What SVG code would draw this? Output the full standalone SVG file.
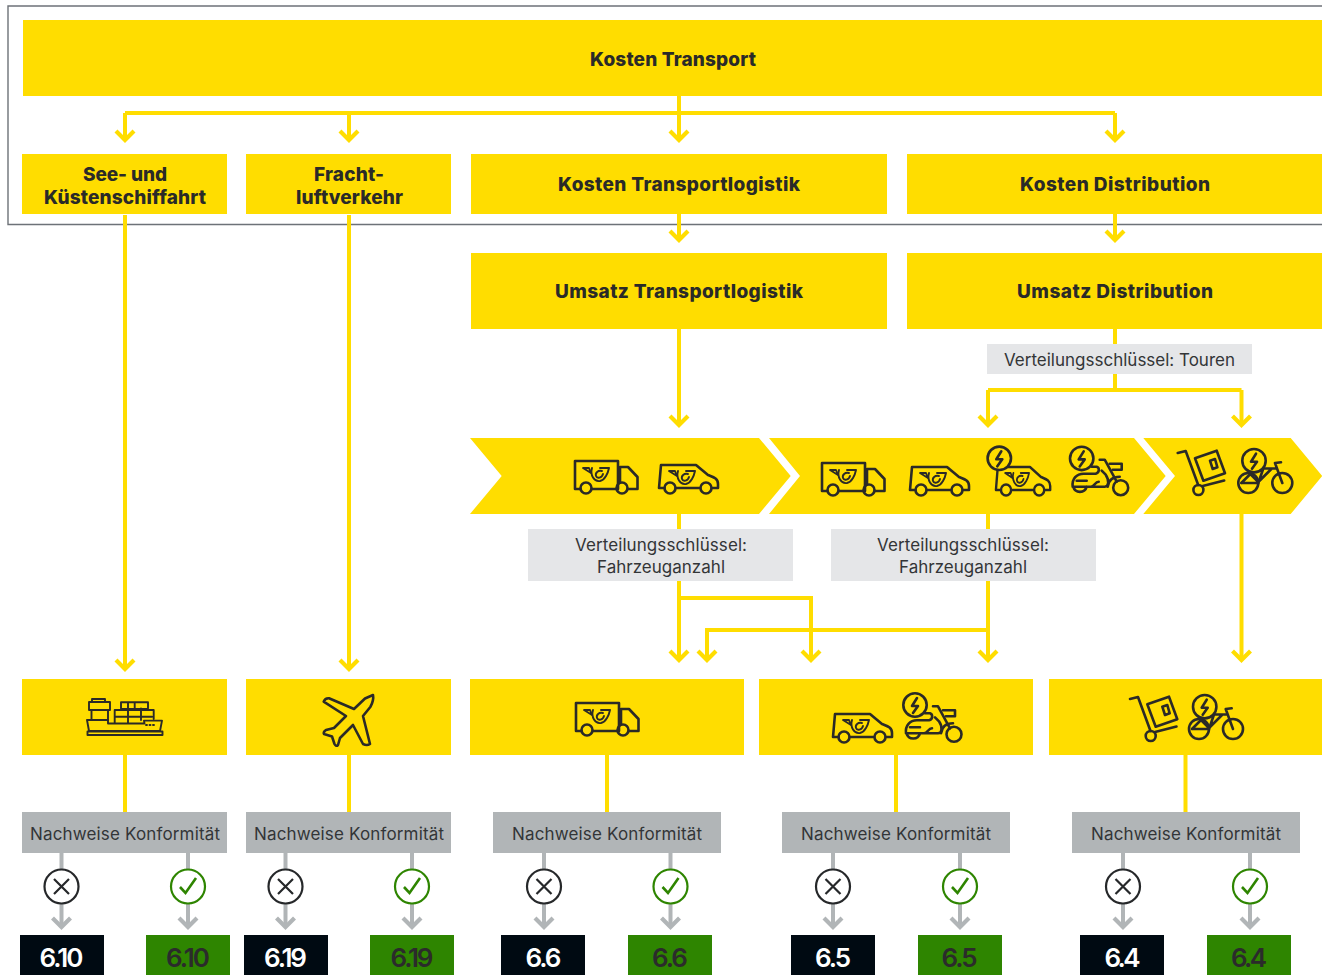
<svg xmlns="http://www.w3.org/2000/svg" width="1322" height="975" viewBox="0 0 1322 975">
<style>
.y{fill:#ffdd00}
.h{font-family:Inter,"Liberation Sans",sans-serif;font-weight:800;font-size:19px;fill:#2a2a28;text-anchor:middle}
.t{font-family:Inter,"Liberation Sans",sans-serif;font-weight:400;font-size:17px;fill:#333537;text-anchor:middle}
.n{font-family:Inter,"Liberation Sans",sans-serif;font-weight:600;font-size:26px;text-anchor:middle}
.lab{fill:#e5e6e8}
.g{fill:#b1b5b7}
.bl{fill:#000a12}
.gr{fill:#2e8500}
.c{fill:none;stroke:#ffdd00;stroke-width:4}
.ca{fill:none;stroke:#ffdd00;stroke-width:4;marker-end:url(#ay)}
.cg{fill:none;stroke:#b1b5b7;stroke-width:4}
.cga{fill:none;stroke:#b1b5b7;stroke-width:4;marker-end:url(#ag)}
.i{fill:none;stroke:#2b2a27;stroke-width:2.6;stroke-linejoin:round;stroke-linecap:round}
.i2{fill:none;stroke:#2b2a27;stroke-width:1.9;stroke-linejoin:round;stroke-linecap:round}
.lg{stroke-width:1.9}
.bf{fill:#ffdd00}
.cx{fill:#fff;stroke:#26282a;stroke-width:2.2}
.cv{fill:#fff;stroke:#2e8500;stroke-width:2.2}
.mx{fill:none;stroke:#26282a;stroke-width:2.2}
.mv{fill:none;stroke:#2e8500;stroke-width:2.6}
</style>
<defs>
<marker id="ay" markerUnits="userSpaceOnUse" markerWidth="24" markerHeight="28" refX="12" refY="14" orient="auto" viewBox="0 0 24 28"><path d="M3 5 L12 14 L3 23" fill="none" stroke="#ffdd00" stroke-width="4.2"/></marker>
<marker id="ag" markerUnits="userSpaceOnUse" markerWidth="24" markerHeight="28" refX="12" refY="14" orient="auto" viewBox="0 0 24 28"><path d="M3 5 L12 14 L3 23" fill="none" stroke="#b1b5b7" stroke-width="4.2"/></marker>
<g id="logo" class="lg"><path d="M0 1 L6 1 L8 6 Z"/><path d="M9 1 C7 8 11 15 17 14 C22 13 25 6 26 1 H17"/><path d="M19 4 C15 3 12 6 13 9 C14 12 19 11 20 7"/></g>
<g id="truck"><path d="M6.5 29 H1 V1 H44 V29 M18 29 H42"/><circle cx="12" cy="28" r="5.5"/><circle cx="48" cy="28" r="5.5"/><path d="M46 22 V7 H54 L63.5 17 V29 H54"/><use href="#logo" x="9" y="7"/></g>
<g id="van"><path d="M6.5 24 H1 L3 1 H38 L50 11 C55 13 60 14 60 20 V24 H54 M18 24 H42"/><circle cx="12" cy="24" r="5.5"/><circle cx="48" cy="24" r="5.5"/><use href="#logo" x="11" y="6"/></g>
<g id="badge"><circle class="bf" cx="0" cy="0" r="11.7"/><path d="M2 -7 L-3 1 H3 L-2 8"/></g>
<g id="scooter"><path d="M1 41 C0 33 5 28 12 28 H24 C28 27 28 22 25 21 H20 M1 41 H19 C23 41 23 36 27 36 M20 41 H33 C37 41 38 35 34 29 L30 25 M28 14 H33 L45 36 M15 41 A7 7 0 0 1 1.500 41 M5 35 H15"/><path d="M38 18 H50 V24 H41"/><circle cx="49" cy="42" r="7.5"/><path d="M36 41 C37 34 42 31 48 31"/><use href="#badge" x="10" y="12.7"/></g>
<g id="trolley"><path d="M1 3 L9 1 L21.500 35 M26 36 L47.500 30.500"/><circle cx="21.7" cy="40" r="5"/><path d="M18.300 8.300 L40 .7 L48.300 23.300 L26.700 30.700 Z M33.300 10.700 L38.300 9 L40.700 17.300 L36 19 Z"/></g>
<g id="bike"><circle cx="10" cy="33" r="10"/><circle cx="44" cy="33" r="10"/><path d="M3 33 H20 L25 18.500 H37 M20 32 L33 19 M44 33 L36.700 13 L42.700 12.300 M3 33 L12 24 L20 32"/><use href="#badge" x="15.7" y="10.7"/></g>
<g id="ship"><path d="M0 22 H21 V25.500 H57.500 L57 22.600 H75 L73 33 H2 Z"/><path d="M0.500 33.500 H75.500 V37 H0.500 Z"/><path d="M2 4 H23 V12 H2 Z M4.500 12 V22 M21 12 V22 M5 4 V1 H18 V4"/><path d="M34 10.500 V4.300 H61 V10.500 M27.700 25 V12 H66.700 V21 M27.700 18.700 H65 M41 4.300 V25 M47.700 4.300 V10.500 M54 10.500 V22 M34 11 H61"/><path d="M59 27 H60 M62.500 27 H63.500 M66 27 H67"/></g>
<g id="plane"><path d="M50 1 L42 4.500 L31 15 L6 4.300 Q2 4 .7 7.700 L23 22 L11 34 L3 36 Q0 38 1 40 L9 42.500 L11.500 50 Q13 53 15 51 L17 44 L30 31 L40 50 Q44 52 47 50 L40 22 L47.500 12.700 Q51 6 50 1 Z"/></g>
</defs>
<path id="frame" d="M1322 6 H8 V224.500 H1322" fill="none" stroke="#6d7278" stroke-width="1.4"/>
<g id="connectors">
<path class="c" d="M679 96 V113 M125 113 H1115"/>
<path class="ca" d="M125 113 V140"/><path class="ca" d="M349 113 V140"/><path class="ca" d="M679 113 V140"/><path class="ca" d="M1115 113 V140"/>
<path class="ca" d="M125 215 V669"/><path class="ca" d="M349 215 V669"/>
<path class="ca" d="M679 214 V240"/><path class="ca" d="M1115 214 V240"/>
<path class="ca" d="M679 329 V425"/>
<path class="c" d="M1115 329 V390 M988 390 H1241.500"/>
<path class="ca" d="M988 390 V425"/><path class="ca" d="M1241.500 390 V425"/>
<path class="ca" d="M679 514 V660"/>
<path class="ca" d="M679 598 H811 V660"/>
<path class="ca" d="M988 514 V660"/>
<path class="ca" d="M988 630 H707 V660"/>
<path class="ca" d="M1241.500 514 V660"/>
<path class="c" d="M125 755 V812 M349 755 V812 M607 755 V812 M896 755 V812 M1185.500 755 V812"/>
<path class="cga" d="M61.500 853 V927"/><path class="cga" d="M188 853 V927"/><path class="cga" d="M285.500 853 V927"/><path class="cga" d="M412 853 V927"/><path class="cga" d="M544 853 V927"/><path class="cga" d="M670.500 853 V927"/><path class="cga" d="M833 853 V927"/><path class="cga" d="M960 853 V927"/><path class="cga" d="M1123 853 V927"/><path class="cga" d="M1250 853 V927"/>
</g>
<g id="n-kosten-transport"><rect class="y" x="23" y="20" width="1299" height="76"/><text class="h" x="673" y="66" textLength="166">Kosten Transport</text></g>
<g id="n-see"><rect class="y" x="22" y="154" width="205" height="60"/><text class="h" x="125" y="181" textLength="84">See- und</text><text class="h" x="125" y="204" textLength="162">Küstenschiffahrt</text></g>
<g id="n-fracht"><rect class="y" x="246" y="154" width="205" height="60"/><text class="h" x="349" y="181" textLength="70">Fracht-</text><text class="h" x="349.500" y="204" textLength="107">luftverkehr</text></g>
<g id="n-kosten-tl"><rect class="y" x="471" y="154" width="416" height="60"/><text class="h" x="679" y="191" textLength="242">Kosten Transportlogistik</text></g>
<g id="n-kosten-dist"><rect class="y" x="907" y="154" width="415" height="60"/><text class="h" x="1115" y="191" textLength="190">Kosten Distribution</text></g>
<g id="n-umsatz-tl"><rect class="y" x="471" y="253" width="416" height="76"/><text class="h" x="679" y="298" textLength="248">Umsatz Transportlogistik</text></g>
<g id="n-umsatz-dist"><rect class="y" x="907" y="253" width="415" height="76"/><text class="h" x="1115" y="298" textLength="196">Umsatz Distribution</text></g>
<g id="n-touren"><rect class="lab" x="987" y="344" width="265" height="30"/><text class="t" x="1119.500" y="366" textLength="231">Verteilungsschlüssel: Touren</text></g>
<g id="n-chevron1"><path class="y" d="M470 438 H759 L790.700 476 L759 514 H470 L501.700 476 Z"/><g class="i"><use href="#truck" x="574" y="460"/><use href="#van" x="658" y="464"/></g></g>
<g id="n-chevron2"><path class="y" d="M769 438 H1134 L1165.700 476 L1134 514 H769 L800 476 Z"/><g class="i"><use href="#truck" x="821" y="462"/><use href="#van" x="909" y="466"/><use href="#van" transform="translate(995 466) scale(.92 1)"/><use href="#badge" x="999.300" y="458.300"/><use href="#scooter" x="1071.700" y="445.700"/></g></g>
<g id="n-chevron3"><path class="y" d="M1143.300 438 H1290.700 L1322.300 476 L1290.700 514 H1143.300 L1175 476 Z"/><g class="i"><use href="#trolley" x="1176.700" y="450"/><use href="#bike" x="1238.300" y="450"/></g></g>
<g id="n-vs1"><rect class="lab" x="528" y="529" width="265" height="52"/><text class="t" x="661" y="551" textLength="172">Verteilungsschlüssel:</text><text class="t" x="661" y="573" textLength="128">Fahrzeuganzahl</text></g>
<g id="n-vs2"><rect class="lab" x="831" y="529" width="265" height="52"/><text class="t" x="963" y="551" textLength="172">Verteilungsschlüssel:</text><text class="t" x="963" y="573" textLength="128">Fahrzeuganzahl</text></g>
<g id="n-b-ship"><rect class="y" x="22" y="679" width="205" height="76"/><g class="i2"><use href="#ship" x="87" y="698"/></g></g>
<g id="n-b-plane"><rect class="y" x="246" y="679" width="205" height="76"/><g class="i"><use href="#plane" x="323" y="694"/></g></g>
<g id="n-b-truck"><rect class="y" x="470" y="679" width="274" height="76"/><g class="i"><use href="#truck" x="575" y="702"/></g></g>
<g id="n-b-van"><rect class="y" x="759" y="679" width="274" height="76"/><g class="i"><use href="#van" x="832" y="713"/><use href="#scooter" x="905" y="692.300"/></g></g>
<g id="n-b-bike"><rect class="y" x="1049" y="679" width="273" height="76"/><g class="i"><use href="#trolley" x="1129" y="696"/><use href="#bike" x="1189" y="696"/></g></g>
<g id="n-nk1"><rect class="g" x="22" y="812" width="205" height="41"/><text class="t" x="125" y="839.500" textLength="190">Nachweise Konformität</text></g>
<g id="n-nk2"><rect class="g" x="246" y="812" width="205" height="41"/><text class="t" x="349" y="839.500" textLength="190">Nachweise Konformität</text></g>
<g id="n-nk3"><rect class="g" x="493" y="812" width="228" height="41"/><text class="t" x="607" y="839.500" textLength="190">Nachweise Konformität</text></g>
<g id="n-nk4"><rect class="g" x="782" y="812" width="228" height="41"/><text class="t" x="896" y="839.500" textLength="190">Nachweise Konformität</text></g>
<g id="n-nk5"><rect class="g" x="1072" y="812" width="228" height="41"/><text class="t" x="1186" y="839.500" textLength="190">Nachweise Konformität</text></g>
<g id="n-x1"><circle class="cx" cx="61.500" cy="886.500" r="17"/><path class="mx" d="M54 879 L69 894 M69 879 L54 894"/></g>
<g id="n-v1"><circle class="cv" cx="188" cy="886.500" r="17"/><path class="mv" d="M180 887 L185.500 893 L196 878"/></g>
<g id="n-x2"><circle class="cx" cx="285.500" cy="886.500" r="17"/><path class="mx" d="M278 879 L293 894 M293 879 L278 894"/></g>
<g id="n-v2"><circle class="cv" cx="412" cy="886.500" r="17"/><path class="mv" d="M404 887 L409.500 893 L420 878"/></g>
<g id="n-x3"><circle class="cx" cx="544" cy="886.500" r="17"/><path class="mx" d="M536.500 879 L551.500 894 M551.500 879 L536.500 894"/></g>
<g id="n-v3"><circle class="cv" cx="670.500" cy="886.500" r="17"/><path class="mv" d="M662.500 887 L668 893 L678.500 878"/></g>
<g id="n-x4"><circle class="cx" cx="833" cy="886.500" r="17"/><path class="mx" d="M825.500 879 L840.500 894 M840.500 879 L825.500 894"/></g>
<g id="n-v4"><circle class="cv" cx="960" cy="886.500" r="17"/><path class="mv" d="M952 887 L957.500 893 L968 878"/></g>
<g id="n-x5"><circle class="cx" cx="1123" cy="886.500" r="17"/><path class="mx" d="M1115.500 879 L1130.500 894 M1130.500 879 L1115.500 894"/></g>
<g id="n-v5"><circle class="cv" cx="1250" cy="886.500" r="17"/><path class="mv" d="M1242 887 L1247.500 893 L1258 878"/></g>
<g id="n-r1"><rect class="bl" x="20" y="935" width="84" height="40"/><text class="n" fill="#fff" x="61.500" y="966.500" textLength="44">6.10</text></g>
<g id="n-r2"><rect class="gr" x="146" y="935" width="84" height="40"/><text class="n" fill="#2b2b2b" x="188" y="966.500" textLength="44">6.10</text></g>
<g id="n-r3"><rect class="bl" x="244" y="935" width="84" height="40"/><text class="n" fill="#fff" x="285.500" y="966.500" textLength="43">6.19</text></g>
<g id="n-r4"><rect class="gr" x="370" y="935" width="84" height="40"/><text class="n" fill="#2b2b2b" x="412" y="966.500" textLength="43">6.19</text></g>
<g id="n-r5"><rect class="bl" x="501" y="935" width="84" height="40"/><text class="n" fill="#fff" x="543.500" y="966.500" textLength="36">6.6</text></g>
<g id="n-r6"><rect class="gr" x="628" y="935" width="84" height="40"/><text class="n" fill="#2b2b2b" x="670" y="966.500" textLength="36">6.6</text></g>
<g id="n-r7"><rect class="bl" x="791" y="935" width="84" height="40"/><text class="n" fill="#fff" x="833" y="966.500" textLength="36">6.5</text></g>
<g id="n-r8"><rect class="gr" x="918" y="935" width="84" height="40"/><text class="n" fill="#2b2b2b" x="959.500" y="966.500" textLength="36">6.5</text></g>
<g id="n-r9"><rect class="bl" x="1080" y="935" width="84" height="40"/><text class="n" fill="#fff" x="1122.500" y="966.500" textLength="36">6.4</text></g>
<g id="n-r10"><rect class="gr" x="1207" y="935" width="84" height="40"/><text class="n" fill="#2b2b2b" x="1249" y="966.500" textLength="36">6.4</text></g>
</svg>
